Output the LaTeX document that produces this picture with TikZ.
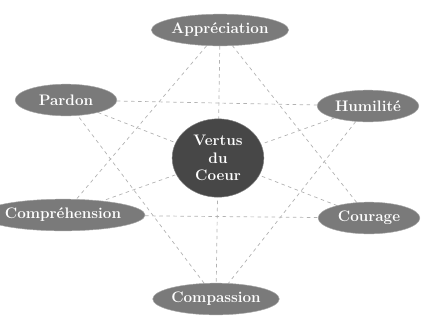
\documentclass[tikz,border=0pt]{standalone}
\usepackage{tikz}
\usetikzlibrary{shapes.geometric,backgrounds}
\tikzset{
  vcell/.style={ellipse, fill=black!52, draw=black!35, text=white, inner sep=0pt,
    minimum width=3.05cm, minimum height=0.95cm, font=\bfseries\fontsize{13}{14}\selectfont},
  vcentre/.style={ellipse, fill=black!72, draw=black!50, text=white, inner sep=0pt,
    minimum width=2.75cm, minimum height=2.35cm, align=center,
    font=\bfseries\fontsize{13}{15}\selectfont},
  vlink/.style={draw=black!30, dashed, line width=0.6pt},
}

\begin{document}
\begin{tikzpicture}[x=0.03cm, y=-0.03cm]
  \useasboundingbox (0,0) rectangle (421,323);
  \node[vcentre] (coeur) at (218,158) {Vertus\\du\\Coeur};
  \node[vcell] (appr) at (220,30) {Appréciation};
  \node[vcell] (pard) at (66,100) {Pardon};
  \node[vcell] (humi) at (368,106) {Humilité};
  \node[vcell] (comh) at (63,215) {Compréhension};
  \node[vcell] (cour) at (369,218) {Courage};
  \node[vcell] (comp) at (216,299) {Compassion};

  \begin{scope}[on background layer]
    % first triangle
    \draw[vlink] (appr) -- (comh) -- (cour) -- (appr);
    % second triangle
    \draw[vlink] (pard) -- (humi) -- (comp) -- (pard);
    % diagonals
    \draw[vlink] (appr) -- (comp);
    \draw[vlink] (pard) -- (cour);
    \draw[vlink] (humi) -- (comh);
  \end{scope}
\end{tikzpicture}
\end{document}
